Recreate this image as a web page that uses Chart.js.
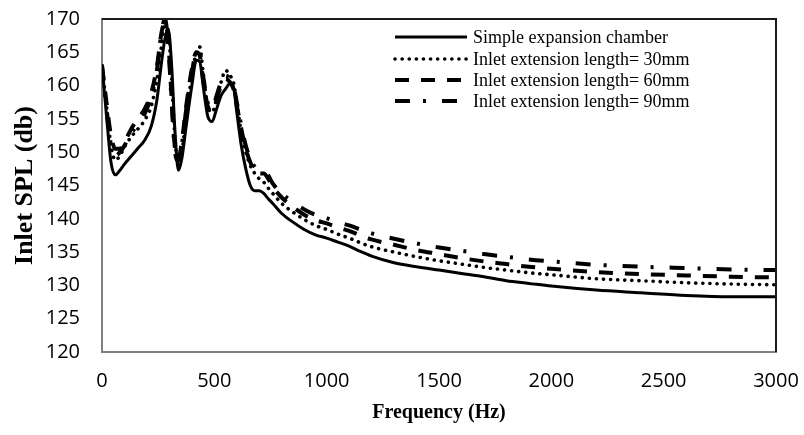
<!DOCTYPE html>
<html>
<head>
<meta charset="utf-8">
<script src="https://cdn.jsdelivr.net/npm/chart.js@4/dist/chart.umd.min.js"></script>
<style>
  html, body { margin: 0; padding: 0; background: #fff; }
  #wrap { width: 804px; height: 435px; }
</style>
</head>
<body>
<div id="wrap"><canvas id="splChart"></canvas></div>
<script>
// frequency points (Hz)
const freq = [0, 20, 40, 60, 80, 100, 130, 160, 190, 220, 245, 265, 280, 295, 310, 325, 340, 355, 375, 400,
  420, 435, 450, 470, 490, 510, 530, 550, 570, 585, 600, 620, 640, 660, 680, 700, 720, 740, 760, 800,
  850, 900, 950, 1000, 1050, 1100, 1150, 1200, 1300, 1400, 1500, 1600, 1700, 1800, 1900, 2000,
  2200, 2400, 2600, 2800, 3000];

// inlet SPL (db) per configuration
const simpleChamber = [163.2, 155.5, 148.5, 146.6, 147.3, 148.2, 149.4, 150.6, 151.8, 154, 158, 163.5, 167, 168.5, 163, 153, 147.3, 149, 154, 160,
  163.8, 163.6, 160, 155.5, 154.6, 156.5, 158.5, 159.5, 160.3, 159.8, 156, 151, 147.5, 145, 144.2, 144.2, 143.8, 143, 142.3, 140.8,
  139.5, 138.4, 137.6, 137.1, 136.5, 135.9, 135.1, 134.4, 133.4, 132.8, 132.3, 131.8, 131.3, 130.7, 130.3, 129.9,
  129.3, 128.9, 128.5, 128.3, 128.3];
const ext30 = [163, 157, 151, 148.8, 149.5, 150.8, 152.3, 153.5, 154.8, 157, 161, 166, 169, 168, 161, 152, 148.2, 150, 155.5, 161.5,
  165, 165.8, 162, 157, 156, 158, 160.5, 162.3, 161.5, 160.5, 157.5, 153, 150, 148, 146.8, 146, 145.5, 144.6, 143.8, 142.3,
  141, 139.9, 139, 138.4, 137.7, 137.1, 136.4, 135.8, 135, 134.3, 133.7, 133.2, 132.7, 132.3, 131.9, 131.6,
  131, 130.7, 130.4, 130.2, 130.1];
const ext60 = [163, 157.5, 152.5, 150.5, 150.5, 151.5, 153.5, 155, 156.5, 159, 163, 168, 169.5, 166.5, 158, 150.5, 149, 151.5, 157, 162.5,
  165, 164.5, 161, 157, 156.2, 158, 160, 161, 160.5, 159.5, 157, 153.5, 150.5, 148.5, 147.3, 146.8, 146.8, 146, 144.8, 143.2,
  141.8, 140.6, 139.8, 139.3, 138.7, 138.2, 137.5, 136.9, 136.1, 135.3, 134.7, 134.1, 133.6, 133.2, 132.8, 132.5,
  132, 131.7, 131.5, 131.3, 131.2];
const ext90 = [163, 156.5, 151, 149.5, 150, 151, 152.8, 154.2, 155.8, 158.5, 162.5, 168, 170, 166, 157.5, 150, 148.7, 151, 156.5, 162,
  164.8, 164.8, 161.5, 157.5, 156.5, 158.5, 160.5, 161.5, 161, 160, 157.5, 154, 151, 149, 147.8, 147.3, 147.2, 146.5, 145.3, 143.8,
  142.5, 141.4, 140.6, 140.1, 139.5, 139, 138.4, 137.8, 137, 136.3, 135.7, 135.2, 134.7, 134.3, 133.9, 133.6,
  133.1, 132.8, 132.6, 132.4, 132.3];

const seriesLabels = ['Simple expansion chamber', 'Inlet extension length= 30mm',
  'Inlet extension length= 60mm', 'Inlet extension length= 90mm'];
const xTicks = [0, 500, 1000, 1500, 2000, 2500, 3000];

function pts(values) {
  return freq.map((f, i) => ({ x: f, y: values[i] }));
}

const lineStyles = [
  { dash: [], width: 3, cap: 'butt' },
  { dash: [0.1, 7], width: 3.6, cap: 'round' },
  { dash: [14, 12], width: 4, cap: 'butt' },
  { dash: [15, 13, 3, 16], width: 4, cap: 'butt' }
];

const datasets = [simpleChamber, ext30, ext60, ext90].map((vals, i) => ({
  label: seriesLabels[i],
  data: pts(vals),
  borderColor: '#000',
  borderWidth: lineStyles[i].width,
  borderDash: lineStyles[i].dash,
  borderCapStyle: lineStyles[i].cap,
  pointRadius: 0,
  fill: false,
  tension: 0.4,
  cubicInterpolationMode: 'monotone'
}));

// legend drawn inside the plot, top right
const insideLegend = {
  id: 'insideLegend',
  afterDraw(chart) {
    const ctx = chart.ctx;
    const x0 = 395, x1 = 467, rows = [37, 59, 80, 101];
    ctx.save();
    chart.data.datasets.forEach((ds, i) => {
      const y = rows[i];
      ctx.beginPath();
      ctx.strokeStyle = '#000';
      ctx.lineWidth = ds.borderWidth;
      ctx.lineCap = ds.borderCapStyle;
      ctx.setLineDash(ds.borderDash);
      ctx.moveTo(x0, y);
      ctx.lineTo(x1, y);
      ctx.stroke();
      ctx.setLineDash([]);
      ctx.fillStyle = '#000';
      ctx.font = '18px "Liberation Serif", "Times New Roman", serif';
      ctx.textBaseline = 'middle';
      ctx.fillText(ds.label, x1 + 6, y + 1);
    });
    // top and right frame of the plot
    const a = chart.chartArea;
    ctx.strokeStyle = '#1a1a1a';
    ctx.lineWidth = 2;
    ctx.beginPath();
    ctx.moveTo(a.left, a.top);
    ctx.lineTo(a.right, a.top);
    ctx.lineTo(a.right, a.bottom);
    ctx.stroke();
    ctx.restore();
  }
};

function noScalePadding(s) {
  s.paddingTop = 0;
  s.paddingBottom = 0;
  s.paddingLeft = 0;
  s.paddingRight = 0;
}

const ctx = document.getElementById('splChart').getContext('2d');
new Chart(ctx, {
  type: 'line',
  data: { datasets: datasets },
  options: {
    responsive: true,
    maintainAspectRatio: false,
    animation: false,
    layout: { padding: { top: 19, right: 28, left: 0, bottom: 0 } },
    plugins: { legend: { display: false }, tooltip: { enabled: false } },
    scales: {
      x: {
        type: 'linear',
        min: 0,
        max: 3000,
        afterFit: s => { s.height = 83; noScalePadding(s); },
        afterBuildTicks: s => { s.ticks = xTicks.map(v => ({ value: v })); },
        grid: { display: false, drawTicks: false },
        border: { display: true, color: '#808080', width: 2 },
        ticks: {
          color: '#000', padding: 17, maxRotation: 0,
          callback: v => String(v),
          font: { family: '"Open Sans", sans-serif', size: 20 }
        },
        title: {
          display: true,
          text: 'Frequency (Hz)',
          color: '#000',
          padding: { top: 0, bottom: 10 },
          font: { family: '"Liberation Serif", "Times New Roman", serif', size: 20, weight: 'bold' }
        }
      },
      y: {
        min: 120,
        max: 170,
        afterFit: s => { s.width = 102; noScalePadding(s); },
        grid: { display: false, drawTicks: false },
        border: { display: true, color: '#808080', width: 2 },
        ticks: { stepSize: 5, color: '#000', padding: 22, font: { family: '"Open Sans", sans-serif', size: 20 } },
        title: {
          display: true,
          text: 'Inlet SPL (db)',
          color: '#000',
          padding: { top: 10, bottom: 0 },
          font: { family: '"Liberation Serif", "Times New Roman", serif', size: 26, weight: 'bold' }
        }
      }
    }
  },
  plugins: [insideLegend]
});
</script>
</body>
</html>
